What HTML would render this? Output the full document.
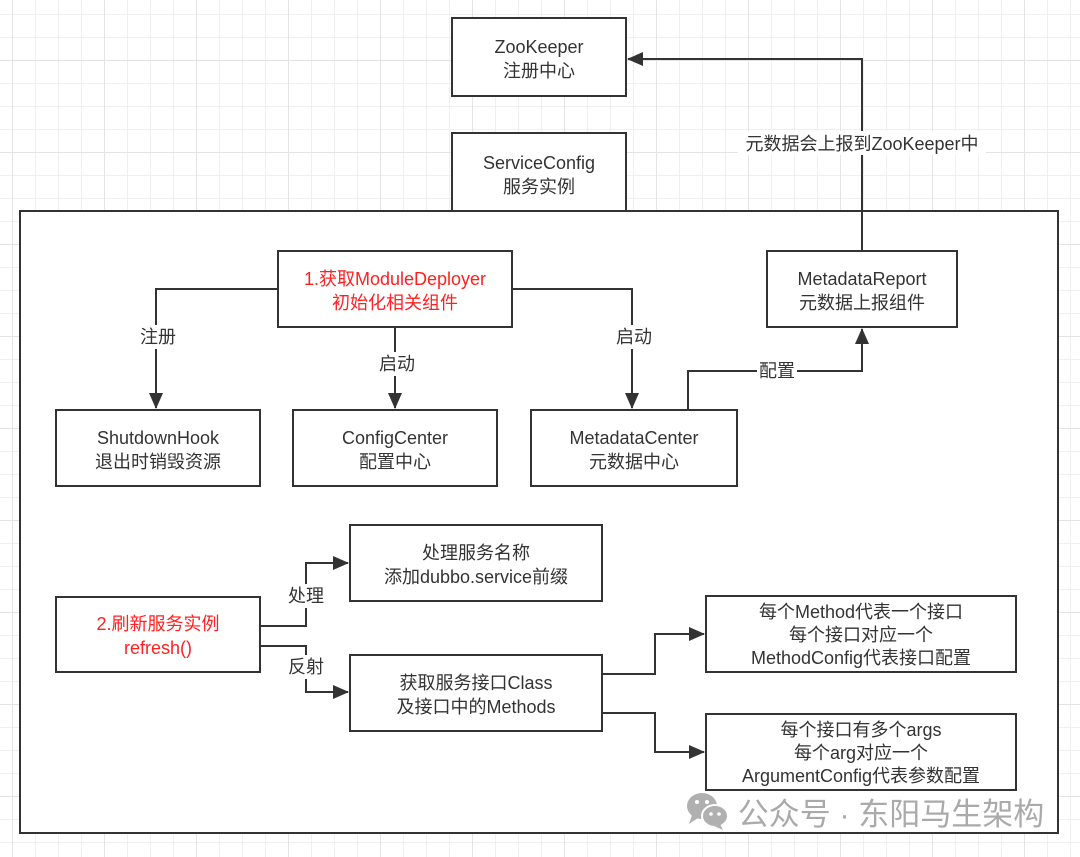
<!DOCTYPE html>
<html><head><meta charset="utf-8"><style>
html,body{margin:0;padding:0;}
body{width:1080px;height:857px;overflow:hidden;background-color:#fff;
background-image:
linear-gradient(to right,#e4e4e4 1px,transparent 1px),
linear-gradient(to bottom,#e4e4e4 1px,transparent 1px),
linear-gradient(to right,#f0f0f0 1px,transparent 1px),
linear-gradient(to bottom,#f0f0f0 1px,transparent 1px);
background-size:92px 92px,92px 92px,23px 23px,23px 23px;
background-position:12px 0,0 60px,12px 0,0 14px;}
svg{position:absolute;left:0;top:0;}
text{font-family:"Liberation Sans","Noto Sans CJK SC",sans-serif;font-size:18px;fill:#333;text-anchor:middle;}
.r{fill:#ff2020;}
rect.b{fill:#fff;stroke:#333;stroke-width:2;}
path.l{fill:none;stroke:#333;stroke-width:2;}
</style></head><body>
<svg width="1080" height="857" viewBox="0 0 1080 857">
<defs>
<marker id="a2" markerWidth="16" markerHeight="14" refX="15" refY="7" orient="auto" markerUnits="userSpaceOnUse"><path d="M0,0 L16,7 L0,14 z" fill="#333"/></marker></defs>
<rect class="b" x="20" y="211" width="1038" height="622"/>
<rect class="b" x="452" y="18" width="174" height="78"/>
<text x="539" y="53">ZooKeeper</text><text x="539" y="77">注册中心</text>
<rect class="b" x="452" y="133" width="174" height="78"/>
<text x="539" y="169">ServiceConfig</text><text x="539" y="193">服务实例</text>
<rect class="b" x="278" y="251" width="234" height="76"/>
<text class="r" x="395" y="285">1.获取ModuleDeployer</text><text class="r" x="395" y="309">初始化相关组件</text>
<rect class="b" x="767" y="251" width="190" height="76"/>
<text x="862" y="285">MetadataReport</text><text x="862" y="309">元数据上报组件</text>
<rect class="b" x="56" y="410" width="204" height="76"/>
<text x="158" y="444">ShutdownHook</text><text x="158" y="468">退出时销毁资源</text>
<rect class="b" x="293" y="410" width="204" height="76"/>
<text x="395" y="444">ConfigCenter</text><text x="395" y="468">配置中心</text>
<rect class="b" x="531" y="410" width="206" height="76"/>
<text x="634" y="444">MetadataCenter</text><text x="634" y="468">元数据中心</text>
<rect class="b" x="350" y="525" width="252" height="76"/>
<text x="476" y="559">处理服务名称</text><text x="476" y="583">添加dubbo.service前缀</text>
<rect class="b" x="56" y="597" width="204" height="75"/>
<text class="r" x="158" y="630">2.刷新服务实例</text><text class="r" x="158" y="654">refresh()</text>
<rect class="b" x="350" y="655" width="252" height="76"/>
<text x="476" y="689">获取服务接口Class</text><text x="476" y="713">及接口中的Methods</text>
<rect class="b" x="706" y="596" width="310" height="76"/>
<text x="861" y="618">每个Method代表一个接口</text><text x="861" y="641">每个接口对应一个</text><text x="861" y="664">MethodConfig代表接口配置</text>
<rect class="b" x="706" y="714" width="310" height="76"/>
<text x="861" y="736">每个接口有多个args</text><text x="861" y="759">每个arg对应一个</text><text x="861" y="782">ArgumentConfig代表参数配置</text>

<path class="l" d="M862,251 V59 H628" marker-end="url(#a2)"/>
<rect x="738" y="131" width="248" height="24" fill="#fff"/>
<text x="862" y="150">元数据会上报到ZooKeeper中</text>
<path class="l" d="M278,289 H156 V408" marker-end="url(#a2)"/>
<rect x="138" y="325" width="40" height="24" fill="#fff"/><text x="158" y="343">注册</text>
<path class="l" d="M395,327 V408" marker-end="url(#a2)"/>
<rect x="376" y="352" width="40" height="24" fill="#fff"/><text x="397" y="370">启动</text>
<path class="l" d="M512,289 H632 V408" marker-end="url(#a2)"/>
<rect x="614" y="325" width="40" height="24" fill="#fff"/><text x="634" y="343">启动</text>
<path class="l" d="M688,410 V371 H862 V329" marker-end="url(#a2)"/>
<rect x="757" y="359" width="40" height="24" fill="#fff"/><text x="777" y="377">配置</text>
<path class="l" d="M260,626 H306 V563 H348" marker-end="url(#a2)"/>
<rect x="286" y="584" width="40" height="24" fill="#fff"/><text x="306" y="602">处理</text>
<path class="l" d="M260,646 H306 V692 H348" marker-end="url(#a2)"/>
<rect x="286" y="655" width="40" height="24" fill="#fff"/><text x="306" y="673">反射</text>
<path class="l" d="M602,674 H655 V634 H704" marker-end="url(#a2)"/>
<path class="l" d="M602,713 H655 V752 H704" marker-end="url(#a2)"/>

<g fill="#b0b0b0">
<ellipse cx="702" cy="806" rx="15" ry="13"/>
<path d="M692,815 L689,824 L698,818 z"/>
<ellipse cx="715" cy="816" rx="13" ry="11" stroke="#fff" stroke-width="2"/>
<path d="M720,824 L723,830 L714,826 z"/>
</g>
<g fill="#fff"><circle cx="697" cy="802" r="2"/><circle cx="707" cy="802" r="2"/><circle cx="711" cy="814" r="1.8"/><circle cx="719" cy="814" r="1.8"/></g>
<text x="891" y="825" style="font-size:31px;fill:#aaa">公众号 · 东阳马生架构</text>
</svg>
</body></html>
